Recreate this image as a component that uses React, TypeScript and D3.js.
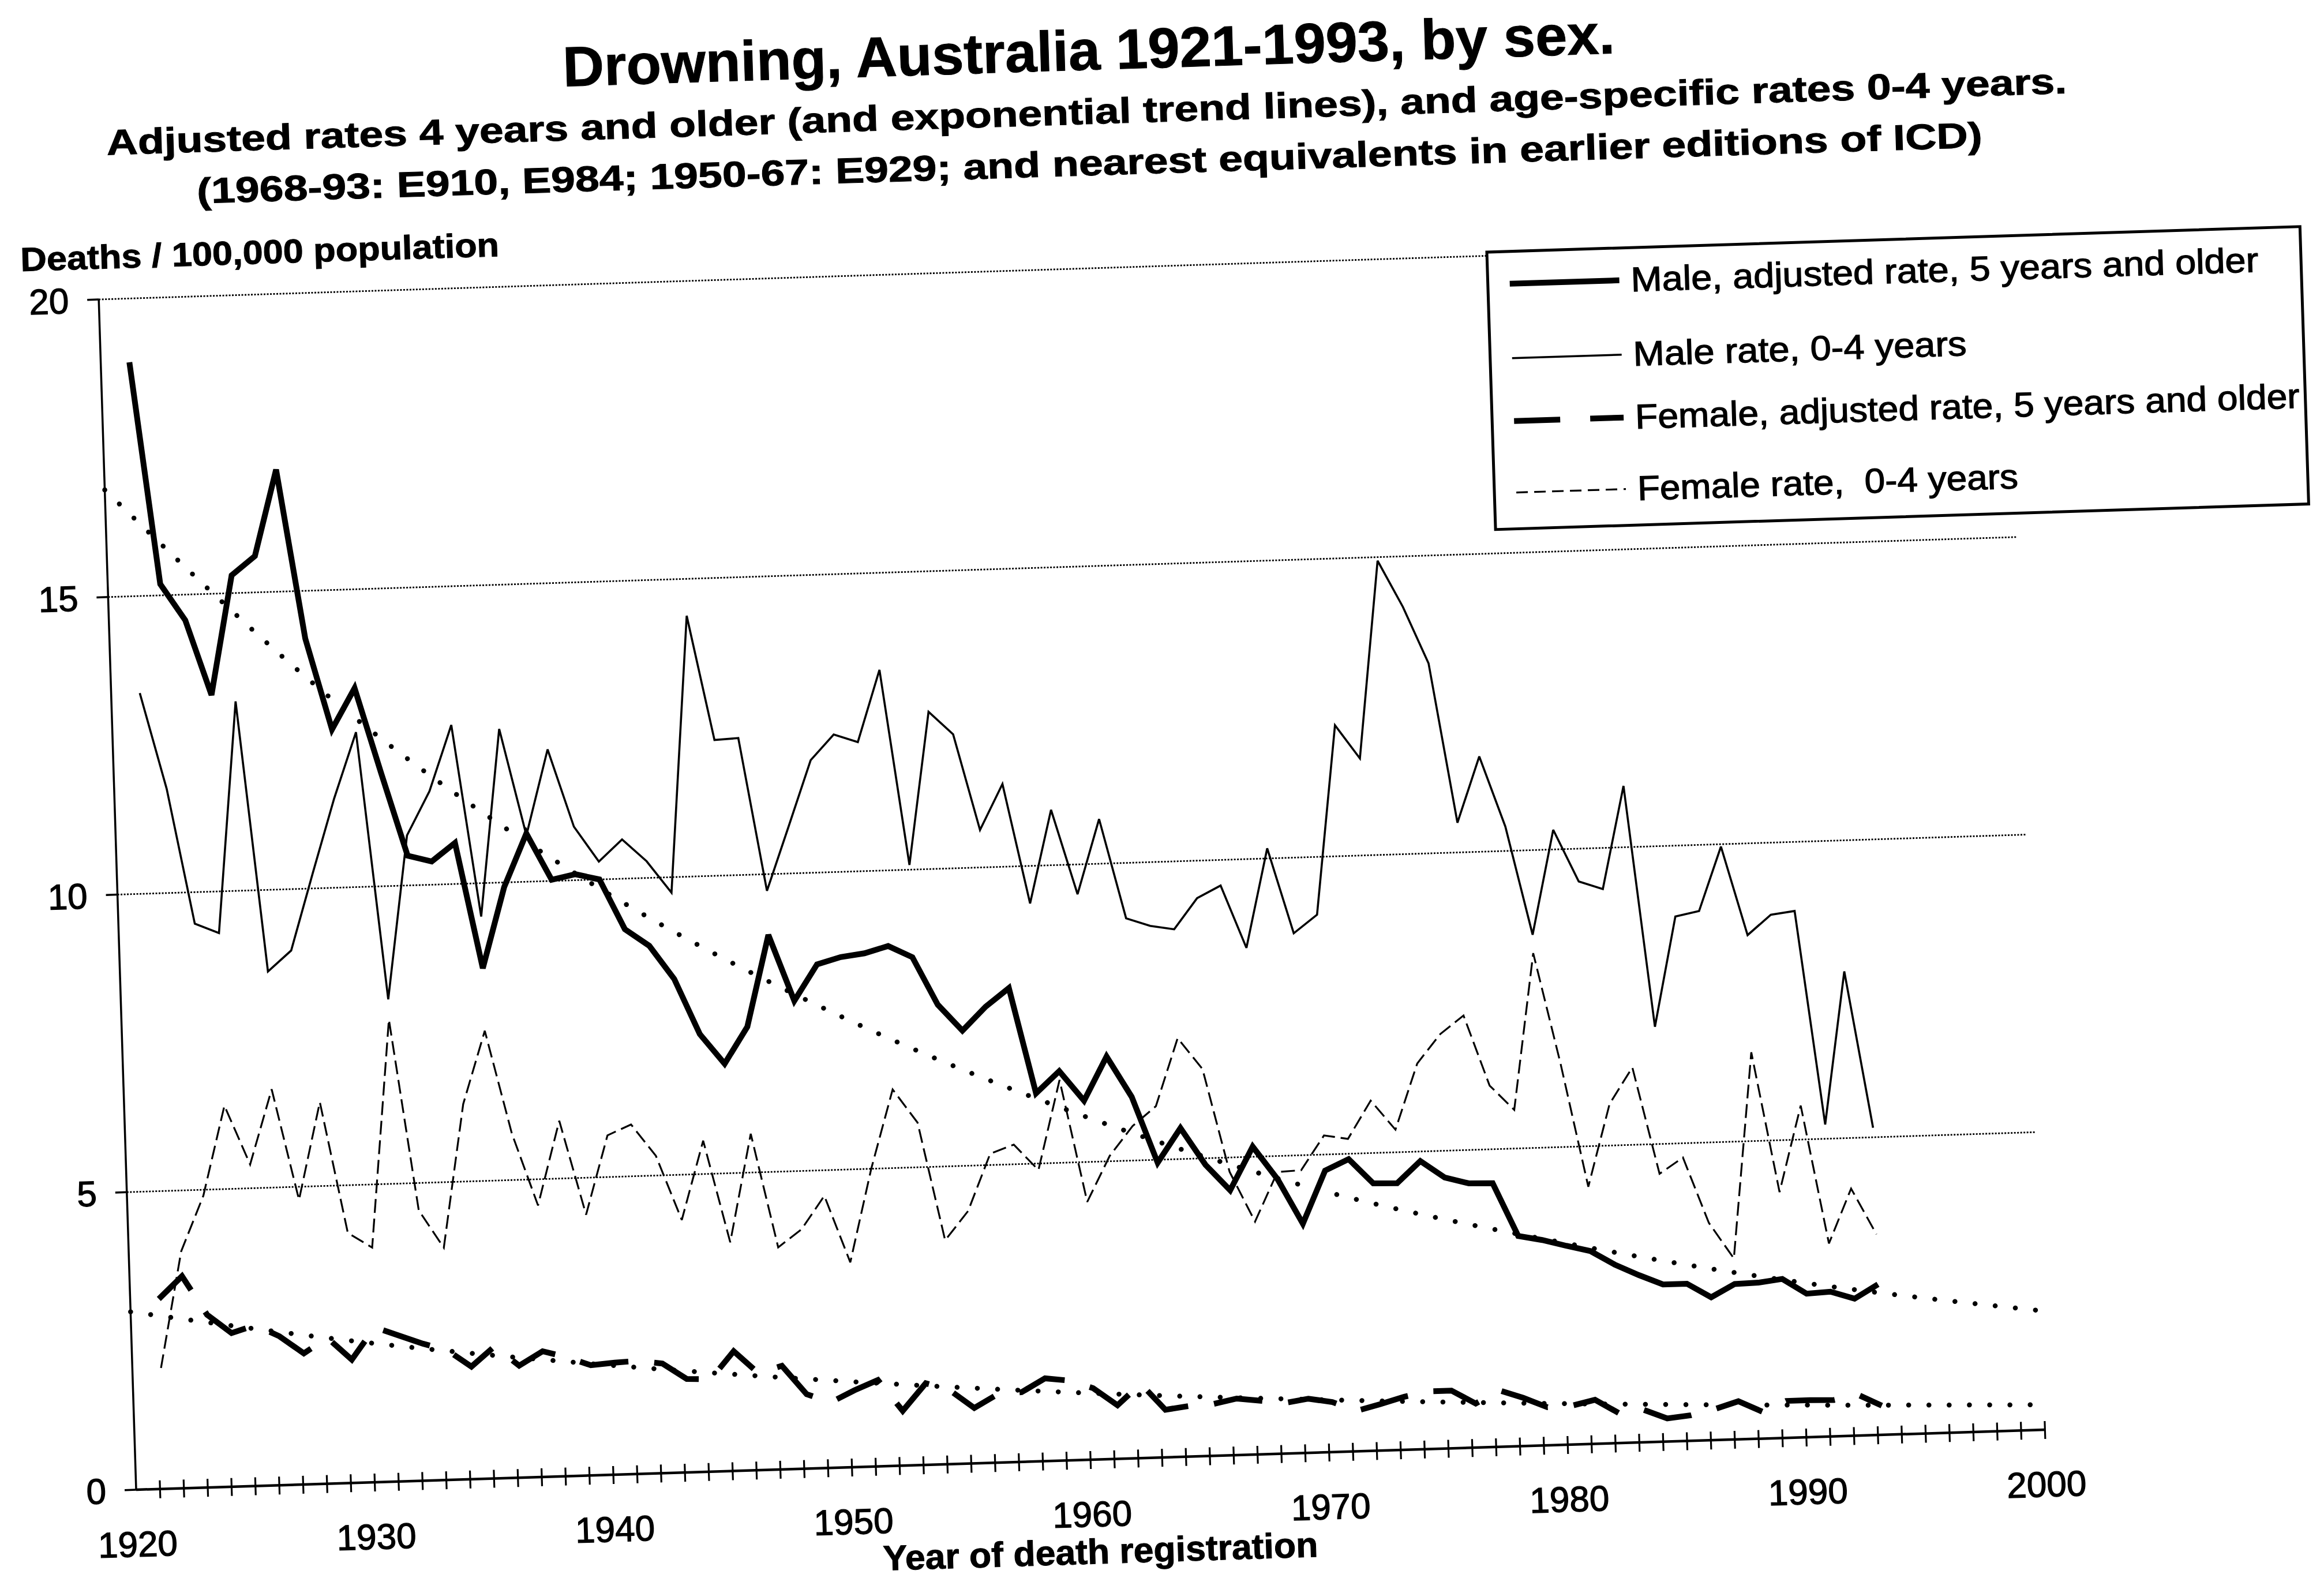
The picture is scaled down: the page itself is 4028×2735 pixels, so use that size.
import React from "react";
import * as d3 from "d3";

// ---------- data ----------
const years = d3.range(1921, 1994);

const maleAdjusted = [
  18.93, 15.19, 14.57, 13.3, 15.3, 15.61, 17.05, 14.2, 12.66, 13.34,
  11.9, 10.5, 10.39, 10.69, 8.57, 9.92, 10.81, 10.02, 10.1, 10.0,
  9.15, 8.86, 8.29, 7.35, 6.84, 7.45, 8.98, 7.86, 8.46, 8.57,
  8.62, 8.73, 8.53, 7.72, 7.27, 7.66, 7.96, 6.18, 6.54, 6.03,
  6.76, 6.07, 4.95, 5.52, 4.89, 4.45, 5.17, 4.61, 3.85, 4.73,
  4.91, 4.49, 4.48, 4.84, 4.55, 4.44, 4.43, 3.53, 3.45, 3.34,
  3.24, 3.0, 2.81, 2.64, 2.64, 2.4, 2.61, 2.62, 2.67, 2.41,
  2.43, 2.3, 2.53,
];

const maleInfant = [
  13.37, 11.75, 9.47, 9.3, 13.18, 8.63, 8.97, 10.25, 11.5, 12.6,
  8.1, 10.84, 11.57, 12.67, 9.44, 12.58, 10.78, 12.21, 10.9, 10.3,
  10.66, 10.28, 9.74, 14.38, 12.28, 12.3, 9.72, 10.8, 11.89, 12.31,
  12.17, 13.37, 10.08, 12.64, 12.25, 10.63, 11.39, 9.37, 10.93, 9.5,
  10.75, 9.07, 8.93, 8.86, 9.37, 9.57, 8.51, 10.17, 8.73, 9.03,
  12.2, 11.63, 14.94, 14.15, 13.19, 10.5, 11.6, 10.41, 8.58, 10.33,
  9.45, 9.31, 11.03, 6.97, 8.81, 8.89, 9.96, 8.46, 8.79, 8.84,
  5.24, 7.8, 5.16,
];

const femaleAdjusted = [
  3.19, 3.56, 2.9, 2.58, 2.7, 2.5, 2.2, 2.45, 2.07, 2.6,
  2.45, 2.3, 2.18, 1.89, 2.22, 1.88, 2.11, 2.0, 1.85, 1.88,
  1.9, 1.84, 1.57, 1.55, 2.01, 1.63, 1.74, 1.25, 1.1, 1.29,
  1.45, 0.92, 1.37, 1.24, 0.93, 1.15, 1.17, 1.39, 1.34, 1.2,
  0.9, 1.25, 0.8, 0.85, 0.87, 0.95, 0.9, 0.85, 0.91, 0.84,
  0.68, 0.78, 0.89, 0.97, 0.97, 0.74, 0.95, 0.81, 0.64, 0.65,
  0.74, 0.5, 0.55, 0.39, 0.43, 0.52, 0.64, 0.45, 0.62, 0.62,
  0.61, 0.69, 0.49,
];

const femaleInfant = [
  2.03, 3.98, 4.9, 6.4, 5.4, 6.65, 4.78, 6.41, 4.2, 3.94,
  7.76, 4.54, 3.9, 6.3, 7.52, 5.78, 4.56, 5.97, 4.38, 5.7,
  5.87, 5.33, 4.24, 5.56, 3.84, 5.65, 3.73, 4.02, 4.57, 3.44,
  5.0, 6.32, 5.75, 3.76, 4.24, 5.19, 5.33, 4.89, 6.39, 4.33,
  5.09, 5.58, 5.9, 7.03, 6.5, 4.76, 3.91, 4.73, 4.75, 5.32,
  5.25, 5.88, 5.38, 6.48, 6.96, 7.26, 6.07, 5.65, 8.27, 6.4,
  4.32, 5.7, 6.3, 4.5, 4.76, 3.65, 3.04, 6.49, 4.13, 5.57,
  3.24, 4.15, 3.37,
];

// exponential trend lines, read at each decade
const trendYears = [1920, 1930, 1940, 1950, 1960, 1970, 1980, 1990, 2000];
const maleTrend = [16.8, 12.9, 9.9, 7.6, 5.8, 4.4, 3.4, 2.6, 2.0];
const femaleTrend = [2.99, 2.34, 1.84, 1.44, 1.12, 0.88, 0.69, 0.54, 0.42];

const yTicks = [0, 5, 10, 15, 20];
const yGrid = [5, 10, 15, 20];
const xLabelYears = [1920, 1930, 1940, 1950, 1960, 1970, 1980, 1990, 2000];
const xTickYears = d3.range(1921, 2001);

const titleText = "Drowning, Australia 1921-1993, by sex.";
const subtitle1 =
  "Adjusted rates 4 years and older (and exponential trend lines), and age-specific rates 0-4 years.";
const subtitle2 =
  "(1968-93: E910, E984; 1950-67: E929; and nearest equivalents in earlier editions of ICD)";
const yTitle = "Deaths / 100,000 population";
const xTitle = "Year of death registration";
const legendLabels = [
  "Male, adjusted rate, 5 years and older",
  "Male rate, 0-4 years",
  "Female, adjusted rate, 5 years and older",
  "Female rate,  0-4 years",
];

// ---------- layout ----------
const FONT = "'Liberation Sans', Arial, Helvetica, sans-serif";
const W = 4028;
const H = 2735;
const OX = 236;
const OY = 2582;
const PW = 3310;
const PH = 2064;
const ROT = -1.8;
const SHIFT = 0.2;

const seriesStyles = [
  { width: 10, dash: undefined },
  { width: 3.6, dash: undefined },
  { width: 10, dash: "85 45" },
  { width: 3.2, dash: "24 10" },
];

export default function App() {
  const x = d3.scaleLinear().domain([1920, 2000]).range([0, PW]);
  const y = d3.scaleLinear().domain([0, 20]).range([0, -PH]);

  const dataLine = d3
    .line<number>()
    .x((_, i) => x(years[i] + SHIFT))
    .y((d) => y(d));

  const trendLine = d3
    .line<number>()
    .x((_, i) => x(trendYears[i]))
    .y((d) => y(d))
    .curve(d3.curveMonotoneX);

  const series = [maleAdjusted, maleInfant, femaleAdjusted, femaleInfant];

  const legendRows = [56, 185, 294, 418];
  const legendTextLen = [1088, 578, 1152, 660];

  const rotText = (cx: number, cy: number) => `rotate(${ROT} ${cx} ${cy})`;
  const heavy = { stroke: "#000", strokeWidth: 1.3 };
  const heavyBold = { stroke: "#000", strokeWidth: 1.0 };

  return (
    <div style={{ position: "absolute", left: 0, top: 0 }}>
      <svg width={W} height={H} style={{ display: "block", background: "#fff" }}>
        <rect x={0} y={0} width={W} height={H} fill="#fff" />

        {/* titles */}
        <text
          x={1888}
          y={121}
          textAnchor="middle"
          fontFamily={FONT}
          fontWeight="bold"
          fontSize={98}
          textLength={1824}
          lengthAdjust="spacingAndGlyphs"
          transform={rotText(1888, 121)}
          {...heavyBold}
        >
          {titleText}
        </text>
        <text
          x={1884}
          y={215}
          textAnchor="middle"
          fontFamily={FONT}
          fontWeight="bold"
          fontSize={62}
          textLength={3399}
          lengthAdjust="spacingAndGlyphs"
          transform={rotText(1884, 215)}
          {...heavyBold}
        >
          {subtitle1}
        </text>
        <text
          x={1889}
          y={304}
          textAnchor="middle"
          fontFamily={FONT}
          fontWeight="bold"
          fontSize={62}
          textLength={3096}
          lengthAdjust="spacingAndGlyphs"
          transform={rotText(1889, 304)}
          {...heavyBold}
        >
          {subtitle2}
        </text>
        <text
          x={36}
          y={470}
          textAnchor="start"
          fontFamily={FONT}
          fontWeight="bold"
          fontSize={58}
          textLength={830}
          lengthAdjust="spacingAndGlyphs"
          transform={rotText(36, 470)}
          {...heavyBold}
        >
          {yTitle}
        </text>
        <text
          x={1908}
          y={2710}
          textAnchor="middle"
          fontFamily={FONT}
          fontWeight="bold"
          fontSize={61}
          textLength={754}
          lengthAdjust="spacingAndGlyphs"
          transform={rotText(1908, 2710)}
          {...heavyBold}
        >
          {xTitle}
        </text>

        {/* plot */}
        <g transform={`translate(${OX},${OY}) rotate(${ROT})`}>
          {/* gridlines */}
          {yGrid.map((v) => (
            <line
              key={"g" + v}
              x1={x(1920)}
              x2={x(2000)}
              y1={y(v)}
              y2={y(v)}
              stroke="#000"
              strokeWidth={2.8}
              strokeDasharray="3 2.5"
            />
          ))}

          {/* trend lines */}
          {[maleTrend, femaleTrend].map((t, i) => (
            <path
              key={"t" + i}
              d={trendLine(t) || ""}
              fill="none"
              stroke="#000"
              strokeWidth={8.5}
              strokeDasharray="0.1 35"
              strokeLinecap="round"
            />
          ))}

          {/* data series */}
          {series.map((s, i) => (
            <path
              key={"s" + i}
              d={dataLine(s) || ""}
              fill="none"
              stroke="#000"
              strokeWidth={seriesStyles[i].width}
              strokeDasharray={seriesStyles[i].dash}
              strokeLinejoin="miter"
              strokeMiterlimit={3}
            />
          ))}

          {/* y axis */}
          <line x1={0} x2={0} y1={y(0)} y2={y(20)} stroke="#000" strokeWidth={3.5} />
          {yTicks.map((v) => (
            <g key={"yt" + v}>
              <line x1={-20} x2={0} y1={y(v)} y2={y(v)} stroke="#000" strokeWidth={3.5} />
              <text
                x={-52}
                y={y(v)}
                dy="0.36em"
                textAnchor="end"
                fontFamily={FONT}
                fontSize={62}
                {...heavy}
              >
                {v}
              </text>
            </g>
          ))}

          {/* x axis */}
          <line x1={x(1920)} x2={x(2000)} y1={0} y2={0} stroke="#000" strokeWidth={4.5} />
          {xTickYears.map((yr) => (
            <line
              key={"xt" + yr}
              x1={x(yr)}
              x2={x(yr)}
              y1={-15}
              y2={16}
              stroke="#000"
              strokeWidth={3.2}
            />
          ))}
          {xLabelYears.map((yr) => (
            <text
              key={"xl" + yr}
              x={x(yr)}
              y={116}
              textAnchor="middle"
              fontFamily={FONT}
              fontSize={62}
              {...heavy}
            >
              {yr}
            </text>
          ))}
        </g>

        {/* legend */}
        <g transform={`translate(2577,437) rotate(${ROT})`}>
          <rect x={0} y={0} width={1410} height={481} fill="#fff" stroke="#000" strokeWidth={5} />
          {legendLabels.map((lab, i) => (
            <g key={"lg" + i}>
              <line
                x1={38}
                x2={228}
                y1={legendRows[i]}
                y2={legendRows[i]}
                stroke="#000"
                strokeWidth={seriesStyles[i].width}
                strokeDasharray={i === 2 ? "80 52" : i === 3 ? "20 11" : undefined}
              />
              <text
                x={248}
                y={legendRows[i] + 20}
                fontFamily={FONT}
                fontSize={60}
                textLength={legendTextLen[i]}
                lengthAdjust="spacingAndGlyphs"
                style={{ whiteSpace: "pre" }}
                {...heavy}
              >
                {lab}
              </text>
            </g>
          ))}
        </g>
      </svg>
    </div>
  );
}
